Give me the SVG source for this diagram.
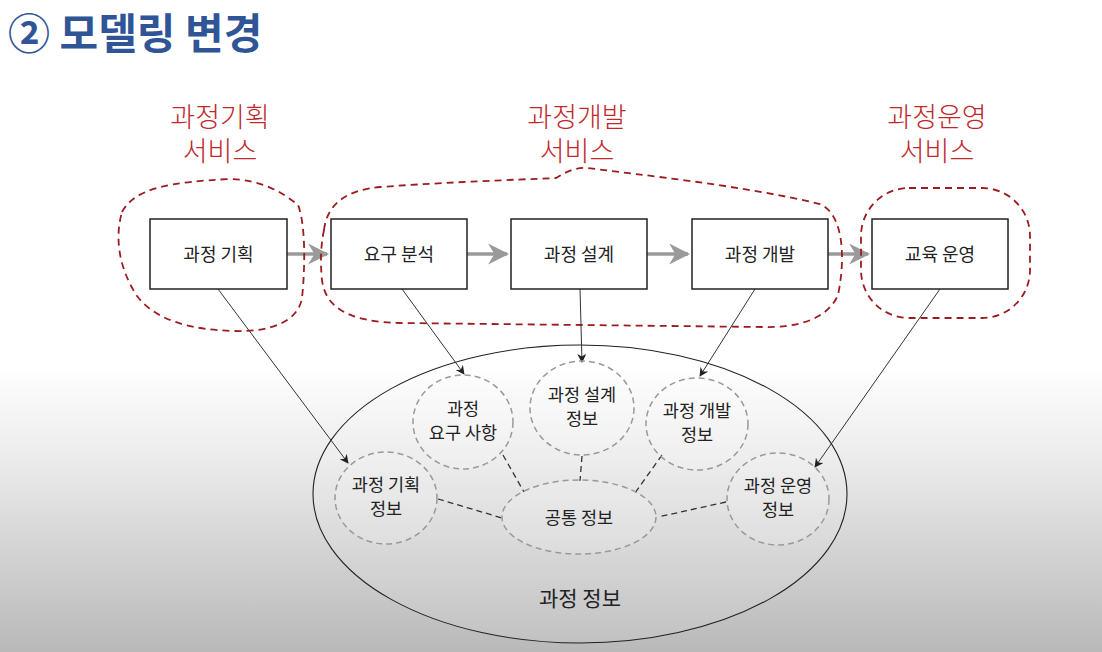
<svg xmlns="http://www.w3.org/2000/svg" width="1102" height="652" viewBox="0 0 1102 652">
<defs>
<linearGradient id="bg" x1="0" y1="0" x2="0" y2="1">
<stop offset="0" stop-color="#ffffff"/>
<stop offset="0.56" stop-color="#ffffff"/>
<stop offset="0.7" stop-color="#ececec"/>
<stop offset="1" stop-color="#b9b9b9"/>
</linearGradient>
<marker id="ah" viewBox="0 0 10 10" refX="9" refY="5" markerWidth="9" markerHeight="9" markerUnits="userSpaceOnUse" orient="auto">
<path d="M0,0 L10,5 L0,10 L3,5 Z" fill="#222"/>
</marker>
<marker id="gah" viewBox="0 0 10 10" refX="9" refY="5" markerWidth="6" markerHeight="6" orient="auto">
<path d="M0,0 L10,5 L0,10 L3,5 Z" fill="#9a9a9a"/>
</marker>
<style>
.title{font-family:"Noto Sans CJK KR","Noto Sans",sans-serif;font-weight:bold;font-size:42px;fill:#2f5597}
.svc{font-family:"Noto Sans CJK KR",sans-serif;font-weight:300;font-size:27px;fill:#c0282c;text-anchor:middle}
.box{fill:#ffffff;stroke:#222;stroke-width:1.5}
.bt{font-family:"Noto Sans CJK KR",sans-serif;font-size:18px;fill:#222;text-anchor:middle}
.blob{fill:none;stroke:#9b1c20;stroke-width:1.8;stroke-dasharray:7,5}
.flow{stroke:#9a9a9a;stroke-width:3.5;fill:none}
.arr{stroke:#333;stroke-width:1;fill:none}
.link{stroke:#333;stroke-width:1.3;stroke-dasharray:6,4;fill:none}
.dc{fill:#ffffff;fill-opacity:0.15;stroke:#999;stroke-width:1.5;stroke-dasharray:6,4}
.ct{font-family:"Noto Sans CJK KR",sans-serif;font-size:17.5px;fill:#222;text-anchor:middle}
</style>
</defs>
<rect width="1102" height="652" fill="url(#bg)"/>
<text class="title" x="8" y="49">② 모델링 변경</text>

<g id="labels">
<text class="svc" x="220" y="127">과정기획</text>
<text class="svc" x="220" y="161">서비스</text>
<text class="svc" x="577" y="127">과정개발</text>
<text class="svc" x="577" y="161">서비스</text>
<text class="svc" x="937" y="127">과정운영</text>
<text class="svc" x="937" y="161">서비스</text>
</g>

<g id="process-info">
<ellipse cx="580" cy="494" rx="267" ry="149" fill="#ffffff" fill-opacity="0.1" stroke="#222" stroke-width="1.1"/>
<text x="580" y="606" font-family="Noto Sans CJK KR, sans-serif" font-size="21" fill="#222" text-anchor="middle">과정 정보</text>
</g>

<g id="connectors">
<line class="flow" x1="287" y1="254" x2="327" y2="254" marker-end="url(#gah)"/>
<line class="flow" x1="467" y1="254" x2="507" y2="254" marker-end="url(#gah)"/>
<line class="flow" x1="647" y1="254" x2="688" y2="254" marker-end="url(#gah)"/>
<line class="flow" x1="828" y1="254" x2="868" y2="254" marker-end="url(#gah)"/>
<line class="arr" x1="218" y1="289" x2="348" y2="463" marker-end="url(#ah)"/>
<line class="arr" x1="402" y1="289" x2="464" y2="374" marker-end="url(#ah)"/>
<line class="arr" x1="580" y1="289" x2="582" y2="362" marker-end="url(#ah)"/>
<line class="arr" x1="755" y1="289" x2="700" y2="376" marker-end="url(#ah)"/>
<line class="arr" x1="940" y1="289" x2="815" y2="467" marker-end="url(#ah)"/>
<line class="link" x1="503" y1="455" x2="524" y2="492"/>
<line class="link" x1="582" y1="456" x2="580" y2="481"/>
<line class="link" x1="662" y1="455" x2="635" y2="493"/>
<line class="link" x1="438" y1="499" x2="502" y2="518"/>
<line class="link" x1="726" y1="502" x2="658" y2="517"/>
</g>

<g id="blob-plan"><path class="blob" d="M122,212 C135,188 170,182 230,179 C262,180 282,192 298,205 C306,225 305,270 302,298 C298,322 270,332 235,331 C190,330 155,320 137,296 C120,270 114,240 122,212 Z"/></g>
<g id="blob-dev"><path class="blob" d="M324,230 C327,205 345,190 380,187 C450,182 510,180 556,178 C566,172 575,167 588,168 C640,175 740,185 820,204 C845,215 845,262 838,295 C828,318 800,328 762,327 L400,323 C345,322 325,305 322,280 C320,260 321,245 324,230 Z"/></g>
<g id="blob-ops"><rect class="blob" x="861" y="188" width="169" height="130" rx="48" ry="48"/></g>

<g id="node-plan"><rect class="box" x="150" y="219" width="137" height="70"/><text class="bt" x="218.5" y="261">과정 기획</text></g>
<g id="node-req"><rect class="box" x="331" y="219" width="136" height="70"/><text class="bt" x="399" y="261">요구 분석</text></g>
<g id="node-design"><rect class="box" x="511" y="219" width="136" height="70"/><text class="bt" x="579" y="261">과정 설계</text></g>
<g id="node-dev"><rect class="box" x="692" y="219" width="136" height="70"/><text class="bt" x="760" y="261">과정 개발</text></g>
<g id="node-ops"><rect class="box" x="872" y="219" width="136" height="70"/><text class="bt" x="940" y="261">교육 운영</text></g>

<g id="c-req"><ellipse class="dc" cx="463" cy="422" rx="50" ry="47"/><text class="ct" x="463" y="415">과정</text><text class="ct" x="463" y="439">요구 사항</text></g>
<g id="c-design"><ellipse class="dc" cx="582" cy="408" rx="52" ry="47"/><text class="ct" x="582" y="401">과정 설계</text><text class="ct" x="582" y="425">정보</text></g>
<g id="c-dev"><ellipse class="dc" cx="697" cy="424" rx="51" ry="46"/><text class="ct" x="697" y="417">과정 개발</text><text class="ct" x="697" y="441">정보</text></g>
<g id="c-plan"><ellipse class="dc" cx="386" cy="498" rx="51" ry="46"/><text class="ct" x="386" y="491">과정 기획</text><text class="ct" x="386" y="515">정보</text></g>
<g id="c-common"><ellipse class="dc" cx="579" cy="517" rx="77" ry="37"/><text class="ct" x="579" y="524">공통 정보</text></g>
<g id="c-ops"><ellipse class="dc" cx="778" cy="499" rx="51" ry="46"/><text class="ct" x="778" y="492">과정 운영</text><text class="ct" x="778" y="516">정보</text></g>
</svg>
